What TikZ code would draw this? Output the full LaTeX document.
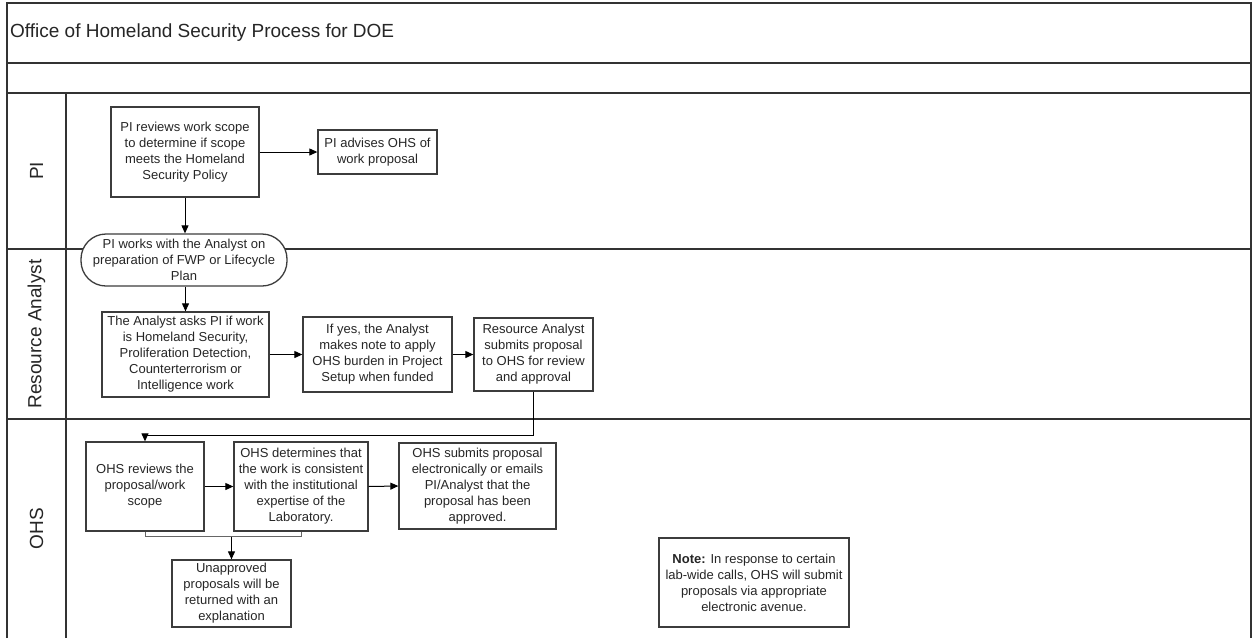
\documentclass[tikz,border=0pt]{standalone}
\usepackage{fontspec}
\setmainfont{Liberation Sans}
\usetikzlibrary{arrows.meta,positioning}
\definecolor{lane}{HTML}{333333}
\definecolor{boxc}{HTML}{3C3C3C}
\begin{document}
\begin{tikzpicture}[x=1pt,y=-1pt,
  lanel/.style={line width=1.5pt,draw=lane},
  procbox/.style={draw=boxc,line width=1.3pt,fill=white,align=center,inner sep=0pt,
    font=\fontsize{13}{16}\selectfont,text=black!85},
  termbox/.style={procbox,rounded corners=25pt},
  lanetext/.style={rotate=90,font=\fontsize{19}{22}\selectfont,text=black!85},
  arr/.style={line width=1pt,-{Triangle[length=8pt,width=7pt]}},
  link/.style={line width=1pt}
]
\useasboundingbox (0,0) rectangle (1253,638);
\fill[white] (0,0) rectangle (1253,638);
% frame and lanes
\draw[lanel] (7,638) -- (7,3) -- (1251,3) -- (1251,638);
\draw[lanel] (7,63) -- (1251,63);
\draw[lanel] (7,93) -- (1251,93);
\draw[lanel] (7,249) -- (1251,249);
\draw[lanel] (7,419) -- (1251,419);
\draw[lanel] (66,93) -- (66,638);
% title and lane labels
\node[anchor=west,font=\fontsize{19}{22}\selectfont,text=black!85,inner sep=0pt] (title) at (10,33) {Office of Homeland Security Process for DOE};
\node[lanetext] (lpi) at (36.5,171) {PI};
\node[lanetext] (lra) at (36.5,334) {Resource Analyst};
\node[lanetext] (lohs) at (36.5,528.5) {OHS};
% PI lane
\node[procbox,minimum width=148pt,minimum height=90pt] (pirev) at (185,152)
  {PI reviews work scope\\to determine if scope\\meets the Homeland\\Security Policy};
\node[procbox,minimum width=119pt,minimum height=44pt] (piadv) at (377.5,152)
  {PI advises OHS of\\work proposal};
\node[termbox,minimum width=206pt,minimum height=52pt] (piwork) at (184,260)
  {PI works with the Analyst on\\preparation of FWP or Lifecycle\\Plan};
% Resource Analyst lane
\node[procbox,minimum width=167pt,minimum height=85pt] (anask) at (185.5,354.5)
  {The Analyst asks PI if work\\is Homeland Security,\\Proliferation Detection,\\Counterterrorism or\\Intelligence work};
\node[procbox,minimum width=149pt,minimum height=75pt] (ifyes) at (377.5,354.5)
  {If yes, the Analyst\\makes note to apply\\OHS burden in Project\\Setup when funded};
\node[procbox,minimum width=119pt,minimum height=73pt] (rasub) at (533.5,354.5)
  {Resource Analyst\\submits proposal\\to OHS for review\\and approval};
% OHS lane
\node[procbox,minimum width=118pt,minimum height=89pt] (ohsrev) at (145,486.5)
  {OHS reviews the\\proposal/work\\scope};
\node[procbox,minimum width=134pt,minimum height=89pt] (ohsdet) at (301,486.5)
  {OHS determines that\\the work is consistent\\with the institutional\\expertise of the\\Laboratory.};
\node[procbox,minimum width=157pt,minimum height=86pt] (ohssub) at (477.5,486)
  {OHS submits proposal\\electronically or emails\\PI/Analyst that the\\proposal has been\\approved.};
\node[procbox,minimum width=119pt,minimum height=67pt] (unapp) at (231.5,593.5)
  {Unapproved\\proposals will be\\returned with an\\explanation};
\node[procbox,minimum width=190pt,minimum height=89pt] (note) at (754,582.5)
  {\textbf{Note:} In response to certain\\lab-wide calls, OHS will submit\\proposals via appropriate\\electronic avenue.};
% connectors
\draw[arr] (pirev.east) -- (piadv.west);
\draw[arr] (pirev.south) -- (pirev.south |- piwork.north);
\draw[arr] (piwork.south -| anask.north) -- (anask.north);
\draw[arr] (anask.east) -- (ifyes.west);
\draw[arr] (ifyes.east) -- (rasub.west);
\draw[arr] (rasub.south) |- ([yshift=6pt]ohsrev.north) -- (ohsrev.north);
\draw[arr] (ohsrev.east) -- (ohsdet.west);
\draw[arr] (ohsdet.east) -- (ohssub.west);
\draw[link,draw=black!60] (ohsrev.south) -- ++(0,5) coordinate (bl) -| (ohsdet.south);
\draw[arr] (bl -| unapp.north) -- (unapp.north);
\end{tikzpicture}
\end{document}
